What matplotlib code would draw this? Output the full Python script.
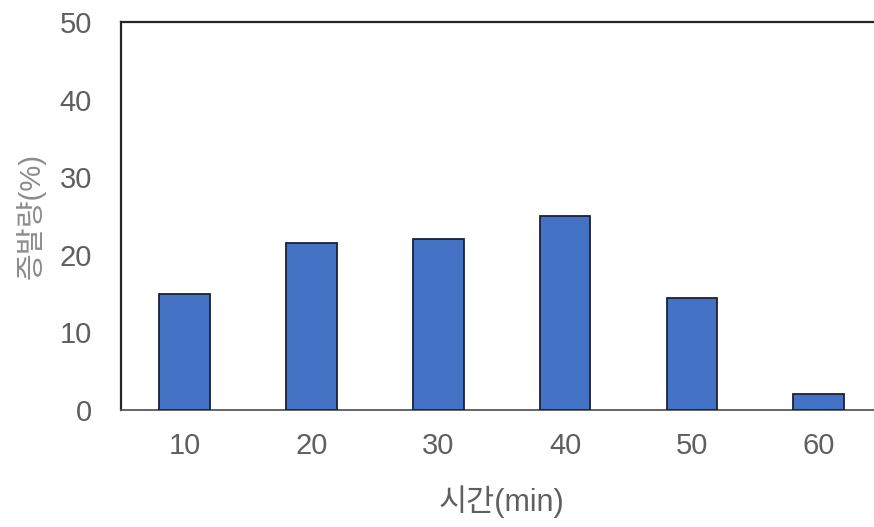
import matplotlib
matplotlib.use("Agg")
import matplotlib.pyplot as plt
import numpy as np

plt.rcParams['font.family'] = ['Liberation Sans', 'Noto Sans CJK KR', 'DejaVu Sans']

# Evaporation (%) measured at each time step
times = ["10", "20", "30", "40", "50", "60"]
evaporation = [15.0, 21.5, 22.0, 25.0, 14.5, 2.0]
y_ticks = [0, 10, 20, 30, 40, 50]

fig = plt.figure(figsize=(8.74, 5.27), dpi=100)
ax = fig.add_axes([0.1384, 0.222, 0.871, 0.736])

x = np.arange(len(times))
ax.bar(x, evaporation, width=0.4, color="#4472C4", edgecolor="#1b2233",
       linewidth=1.3, zorder=3)

ax.set_xlim(-0.5, len(times) - 0.5)
ax.set_ylim(0, 50)
ax.set_yticks(y_ticks)
ax.set_xticks(x)
ax.set_xticklabels(times)

tick_color = "#5f5f5f"
ax.tick_params(axis="both", length=0, labelsize=21, colors=tick_color)
ax.tick_params(axis="y", pad=21)
ax.tick_params(axis="x", pad=16)

for side in ("left", "top", "right"):
    ax.spines[side].set_color("#262626")
    ax.spines[side].set_linewidth(1.6)
ax.spines["bottom"].set_color("#595959")
ax.spines["bottom"].set_linewidth(1.3)

ax.set_xlabel("시간(min)", fontsize=22, color=tick_color, labelpad=18)
ax.set_ylabel("증발량(%)", fontsize=21, color="#8c8c8c", labelpad=10)

fig.savefig("out.png", dpi=100, facecolor="white")
